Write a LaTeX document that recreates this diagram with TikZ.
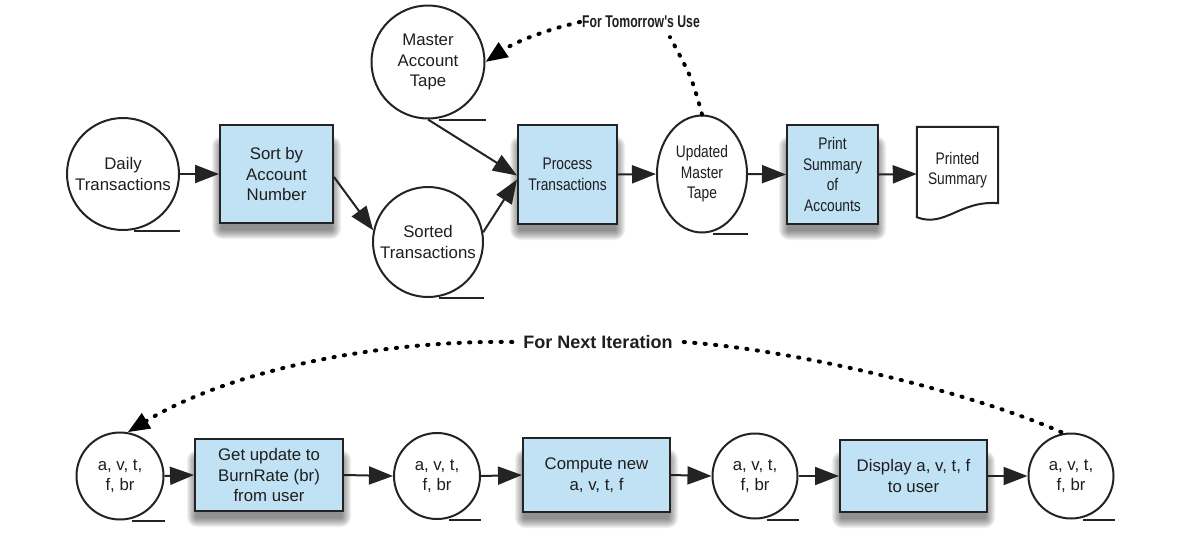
\documentclass[tikz,border=0pt]{standalone}
\usepackage{fontspec}
\setmainfont{Liberation Sans}
\newfontfamily\narrowfont[FakeStretch=0.82]{Liberation Sans}
\newfontfamily\narrowboldfont[FakeStretch=0.72]{Liberation Sans}
\usetikzlibrary{arrows.meta,shapes.geometric,backgrounds}
\definecolor{boxblue}{RGB}{193,226,245}
\definecolor{linec}{RGB}{35,35,35}
\definecolor{textc}{RGB}{30,30,30}
\newcommand\boxshadow[1]{%
  \foreach \k in {1,...,10}{%
    \fill[black, opacity=0.055, rounded corners={\k*1pt}]
      ([xshift={(3-\k)*1pt}, yshift={(-22+\k)*1pt}]#1.north west) rectangle
      ([xshift={(\k-3)*1pt}, yshift={(-5-\k)*1pt}]#1.south east);
  }}
\begin{document}
\begin{tikzpicture}[x=1pt,y=-1pt,
  txt/.style={font=\fontsize{16.8}{20.5}\selectfont, text=textc, align=center},
  ntxt/.style={font=\narrowfont\fontsize{16.8}{20.5}\selectfont, text=textc, align=center},
  procbox/.style={draw=linec, line width=2pt, fill=boxblue, inner sep=0pt},
  store/.style={circle, draw=linec, line width=2pt, fill=white, inner sep=0pt},
  tape/.style={draw=linec, line width=2pt},
  flow/.style={draw=linec, line width=2pt, -{Triangle[length=24pt,width=18pt]}},
  dots/.style={draw=black, line width=4pt, line cap=round, dash pattern=on 1.2pt off 9.3pt},
  dotarrow/.style={dots, -{Triangle[length=22pt,width=17pt]}}
]
\useasboundingbox (0,0) rectangle (1204,544);

% ---------- top row ----------
\node[store, txt, minimum size=112pt] (daily) at (123,174) {Daily\\Transactions};
\node[procbox, txt, minimum width=113pt, minimum height=98pt] (sort) at (276.5,174) {Sort by\\Account\\Number};
\node[store, txt, minimum size=113pt] (master) at (428,62) {Master\\Account\\Tape};
\node[store, txt, minimum size=110pt] (sorted) at (428,242) {Sorted\\Transactions};
\node[procbox, ntxt, minimum width=99pt, minimum height=99pt] (process) at (567.5,174.5) {Process\\Transactions};
\node[ellipse, draw=linec, line width=2pt, fill=white, inner sep=0pt, ntxt,
      minimum width=90pt, minimum height=117pt] (updated) at (702,174) {Updated\\Master\\Tape};
\node[procbox, ntxt, minimum width=91pt, minimum height=99pt] (print) at (832.5,174.5) {Print\\Summary\\of\\Accounts};
\node[inner sep=0pt, minimum width=81pt, minimum height=94pt] (printed) at (957.5,174) {};
\draw[line width=2pt, draw=linec, fill=white]
  (printed.north west) -- (printed.north east) -- ([yshift=18pt]printed.south east)
  .. controls (960,200) and (945,228) .. ([yshift=4pt]printed.south west) -- cycle;
\node[ntxt] (printedtext) at (957.5,170) {Printed\\Summary};

% tape lines
\foreach \n in {daily,master,sorted,updated}
  \draw[tape] ([xshift=11pt]\n.south) -- (\n.south -| \n.east);

% connectors
\draw[flow] (daily.east) -- (sort.west);
\draw[flow] ([yshift=-3pt]sort.east) -- (sorted.168);
\draw[flow] (master.south) -- ([yshift=-1pt]process.west);
\draw[flow] (sorted.10) -- ([yshift=-5pt]process.west);
\draw[flow] (process.east) -- (updated.west);
\draw[flow] (updated.east) -- (print.west);
\draw[flow] (print.east) -- (printed.west);

% for tomorrow's use
\node[font=\narrowboldfont\bfseries\fontsize{17}{20}\selectfont, text=textc, inner sep=2pt] (tomorrow) at (641,22) {For Tomorrow's Use};
\draw[dotarrow] (tomorrow.west) .. controls (545,30) and (515,42) .. (master.east);
\draw[dots] (updated.north) .. controls (692,78) .. ([xshift=29pt,yshift=-7pt]tomorrow.south);

% ---------- bottom row ----------
\node[store, txt, minimum size=87pt] (c1) at (120,476) {a, v, t,\\f, br};
\node[procbox, txt, minimum width=148pt, minimum height=72pt] (b1) at (269,475) {Get update to\\BurnRate (br)\\from user};
\node[store, txt, minimum size=86pt] (c2) at (437,476) {a, v, t,\\f, br};
\node[procbox, txt, minimum width=147pt, minimum height=74pt] (b2) at (596.5,475) {Compute new\\a, v, t, f};
\node[store, txt, minimum size=85pt] (c3) at (755,476) {a, v, t,\\f, br};
\node[procbox, txt, minimum width=147pt, minimum height=72pt] (b3) at (913.5,476) {Display a, v, t, f\\to user};
\node[store, txt, minimum size=85pt] (c4) at (1071,476) {a, v, t,\\f, br};

\foreach \n in {c1,c2,c3,c4}
  \draw[tape] ([xshift=12pt]\n.south) -- (\n.south -| \n.east);

\draw[flow] (c1.east) -- (b1.west);
\draw[flow] (b1.east) -- (c2.west);
\draw[flow] (c2.east) -- (b2.west);
\draw[flow] (b2.east) -- (c3.west);
\draw[flow] (c3.east) -- (b3.west);
\draw[flow] (b3.east) -- (c4.west);

\node[font=\bfseries\fontsize{18}{21}\selectfont, text=textc, inner xsep=11pt, inner ysep=3pt] (next) at (598,342) {For Next Iteration};
\draw[dotarrow] (next.west) .. controls (380,340) and (230,370) .. (c1.80);
\draw[dots] (next.east) .. controls (800,350) and (980,395) .. (c4.100);

% shadows
\begin{pgfonlayer}{background}
  \foreach \b in {sort,process,print,b1,b2,b3} { \boxshadow{\b} }
\end{pgfonlayer}
\end{tikzpicture}
\end{document}
